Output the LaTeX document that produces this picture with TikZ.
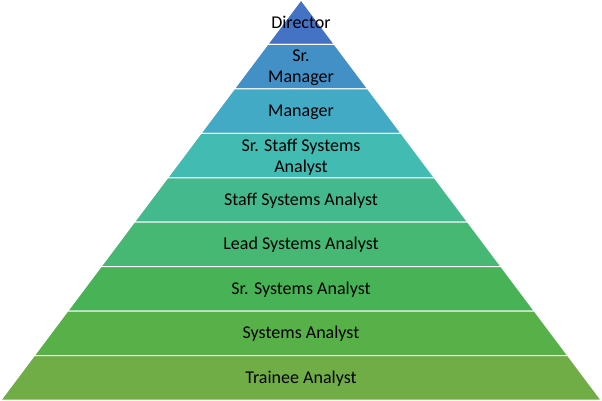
\documentclass[tikz,border=0pt]{standalone}
\usepackage{fontspec}
\setmainfont{Carlito}
\usepackage{xcolor}
\usepackage{tikz}
\usetikzlibrary{positioning}
\definecolor{lvA}{HTML}{4472C4}
\definecolor{lvB}{HTML}{4390C6}
\definecolor{lvC}{HTML}{43AAC6}
\definecolor{lvD}{HTML}{42BBB2}
\definecolor{lvE}{HTML}{44B98E}
\definecolor{lvF}{HTML}{46B873}
\definecolor{lvG}{HTML}{47B356}
\definecolor{lvH}{HTML}{57B048}
\definecolor{lvI}{HTML}{70AD47}
\tikzset{
  layer/.style={draw=white,line width=0.75pt,line join=miter},
  lbl/.style={align=center,inner sep=1pt,text=black,
    font=\fontsize{13.5}{15.8}\selectfont},
}

\begin{document}
\begin{tikzpicture}[x=0.75pt,y=0.75pt]
  \useasboundingbox (0,0) rectangle (602,400);
  % layers, top to bottom
  \filldraw[layer,fill=lvA] (267.67,355.56)--(334.33,355.56)--(301,400)--cycle;
  \filldraw[layer,fill=lvB] (234.33,311.11)--(367.67,311.11)--(334.33,355.56)--(267.67,355.56)--cycle;
  \filldraw[layer,fill=lvC] (201,266.67)--(401,266.67)--(367.67,311.11)--(234.33,311.11)--cycle;
  \filldraw[layer,fill=lvD] (167.67,222.22)--(434.33,222.22)--(401,266.67)--(201,266.67)--cycle;
  \filldraw[layer,fill=lvE] (134.33,177.78)--(467.67,177.78)--(434.33,222.22)--(167.67,222.22)--cycle;
  \filldraw[layer,fill=lvF] (101,133.33)--(501,133.33)--(467.67,177.78)--(134.33,177.78)--cycle;
  \filldraw[layer,fill=lvG] (67.67,88.89)--(534.33,88.89)--(501,133.33)--(101,133.33)--cycle;
  \filldraw[layer,fill=lvH] (34.33,44.44)--(567.67,44.44)--(534.33,88.89)--(67.67,88.89)--cycle;
  \filldraw[layer,fill=lvI] (1,0)--(601,0)--(567.67,44.44)--(34.33,44.44)--cycle;
  % labels
  \node[lbl] (dir) at (301,378) {Director};
  \node[lbl] (srmgr) at (301,332) {Sr.\\Manager};
  \node[lbl] (mgr) at (301,288) {Manager};
  \node[lbl] (srstaff) at (301,243) {Sr. Staff Systems\\Analyst};
  \node[lbl] (staff) at (301,199.5) {Staff Systems Analyst};
  \node[lbl] (lead) at (301,155) {Lead Systems Analyst};
  \node[lbl] (srsys) at (301,110.5) {Sr. Systems Analyst};
  \node[lbl] (sys) at (301,66) {Systems Analyst};
  \node[lbl] (trainee) at (301,21.5) {Trainee Analyst};
\end{tikzpicture}
\end{document}
